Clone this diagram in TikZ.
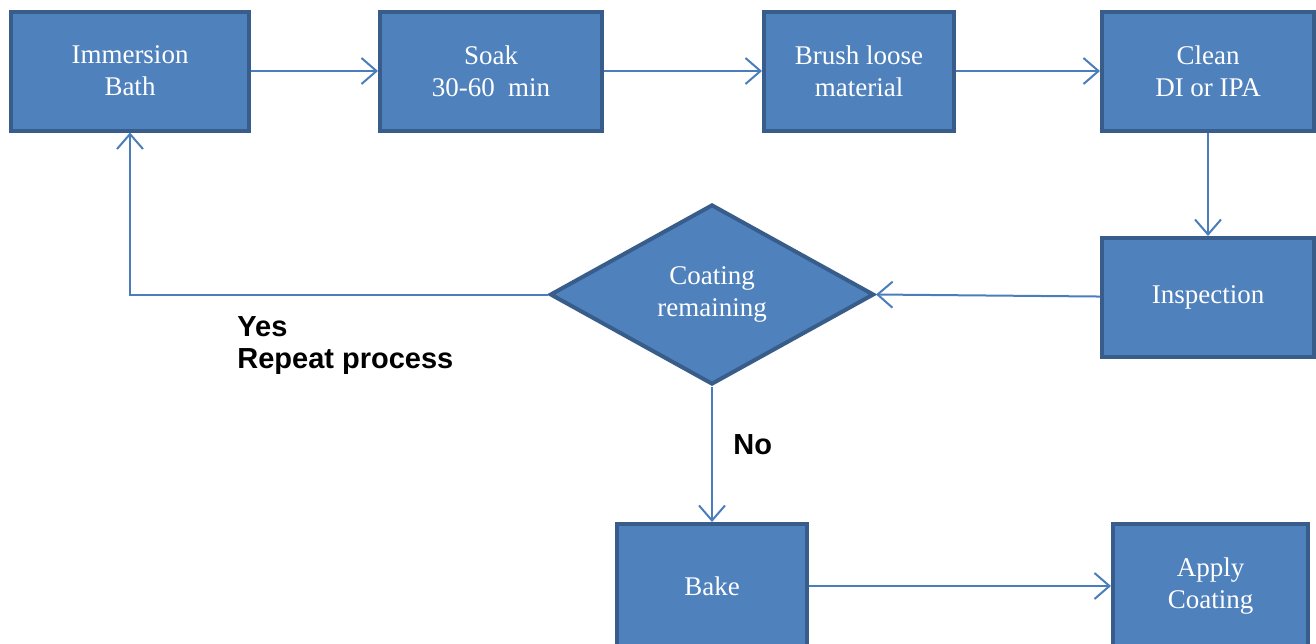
\documentclass[tikz,border=0pt]{standalone}
\usepackage{fontspec}
\setmainfont{Liberation Serif}
\newfontfamily\notefont{Liberation Sans}
\usetikzlibrary{arrows.meta, shapes.geometric}

\definecolor{boxfill}{HTML}{4F81BD}
\definecolor{boxline}{HTML}{385D8A}
\definecolor{flowline}{HTML}{4A7EBB}

\begin{document}
\begin{tikzpicture}[x=0.5pt,y=-0.5pt,inner sep=0pt,>={Straight Barb[length=7.5pt,width=13pt]},
  stage/.style={draw=boxline,fill=boxfill,line width=2pt,minimum width=#1,minimum height=59.5pt,
    text=white,align=center,font=\fontsize{13.5}{16}\selectfont},
  query/.style={stage=162pt,shape=diamond,minimum height=90pt},
  flow/.style={->,draw=flowline,line width=1pt},
  note/.style={font=\notefont\bfseries\fontsize{14.5}{16}\selectfont,align=left}]
\useasboundingbox (0,0) rectangle (1316,643);
\draw node [stage=119pt] (bath)  at (130,71)    {Immersion\\Bath};
\draw node [stage=111pt] (soak)  at (491,71)    {Soak\\30-60~~min};
\draw node [stage=95pt]  (brush) at (859,71)    {Brush loose\\material};
\draw node [stage=106pt] (clean) at (1208,71)   {Clean\\DI or IPA};
\draw node [stage=106pt] (insp)  at (1208,297.5)  {Inspection};
\draw node [query]       (check) at (712,294.5)   {Coating\\remaining};
\draw node [stage=95pt,minimum height=62pt]   (bake)  at (712,586)    {Bake};
\draw node [stage=97.5pt,minimum height=62pt] (apply) at (1210.5,586) {Apply\\Coating};
% connectors
\draw [flow] (bath) -- (soak);
\draw [flow] (soak) -- (brush);
\draw [flow] (brush) -- (clean);
\draw [flow] (clean) -- (insp);
\draw [flow] (insp) -- (check.east);
\draw [flow] (check.west) -| (bath.south);
\draw [flow] (check.south) -- (bake.north);
\draw [flow] (bake) -- (apply);
% answers
\draw node [note,anchor=north west] (yes) at (237,316) {Yes\\Repeat process};
\draw node [note,anchor=north west] (no)  at (733,434) {No};
\end{tikzpicture}
\end{document}
